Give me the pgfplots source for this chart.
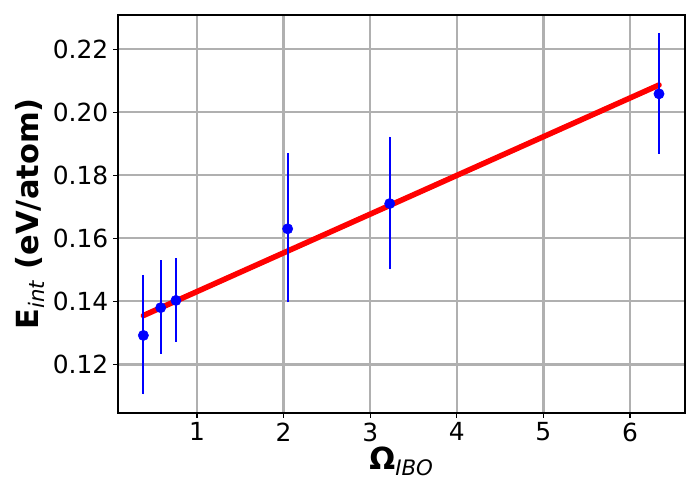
\documentclass[border=0pt]{standalone}
\usepackage{pgfplots}
\pgfplotsset{compat=1.18}
\usepackage{fontspec}
\setmainfont{DejaVu Sans}
\begin{document}
\begin{tikzpicture}
\begin{axis}[
  scale only axis,
  width=5.67in, height=3.98in,
  at={(0,0)}, anchor=south west,
  xmin=0.088, xmax=6.635,
  ymin=0.1046, ymax=0.2308,
  xtick={1,2,3,4,5,6},
  ytick={0.12,0.14,0.16,0.18,0.20,0.22},
  yticklabel style={/pgf/number format/.cd, fixed, fixed zerofill, precision=2},
  /pgf/number format/assume math mode=true,
  ticklabel style={font=\fontsize{18}{21}\selectfont},
  tick align=outside, tick pos=left,
  major tick length=3.5pt,
  every tick/.style={black, line width=0.8pt},
  axis line style={line width=0.8pt},
  grid=major,
  major grid style={line width=1.6pt, color=black!31},
  xlabel={\fontsize{22}{26}\selectfont\textbf{Ω}\textsubscript{\textit{IBO}}},
  ylabel={\fontsize{22}{26}\selectfont\textbf{E}\textsubscript{\textit{int}}\textbf{ (eV/atom)}},
  xlabel style={yshift=3pt},
  ylabel style={yshift=-1pt},
  clip=false,
]
\addplot[red, line width=4pt, line cap=round] coordinates {(0.381,0.1355) (6.335,0.2086)};
\addplot[draw=blue, fill=blue, only marks, mark=*, mark size=3.7pt,
  error bars/.cd, y dir=both, y explicit, error mark=none,
  error bar style={line width=1.5pt, draw=blue, solid}]
  table[x=x, y=y, y error plus=ep, y error minus=em] {
x y ep em
0.381 0.1292 0.0192 0.0187
0.581 0.1380 0.0150 0.0146
0.757 0.1403 0.0133 0.0131
2.047 0.1630 0.0239 0.0233
3.225 0.1710 0.0212 0.0208
6.335 0.2058 0.0193 0.0190
};
\end{axis}
\pgfresetboundingbox
\path[use as bounding box] (-1.18in,-0.87in) rectangle (5.82in,4.13in);
\end{tikzpicture}
\end{document}
